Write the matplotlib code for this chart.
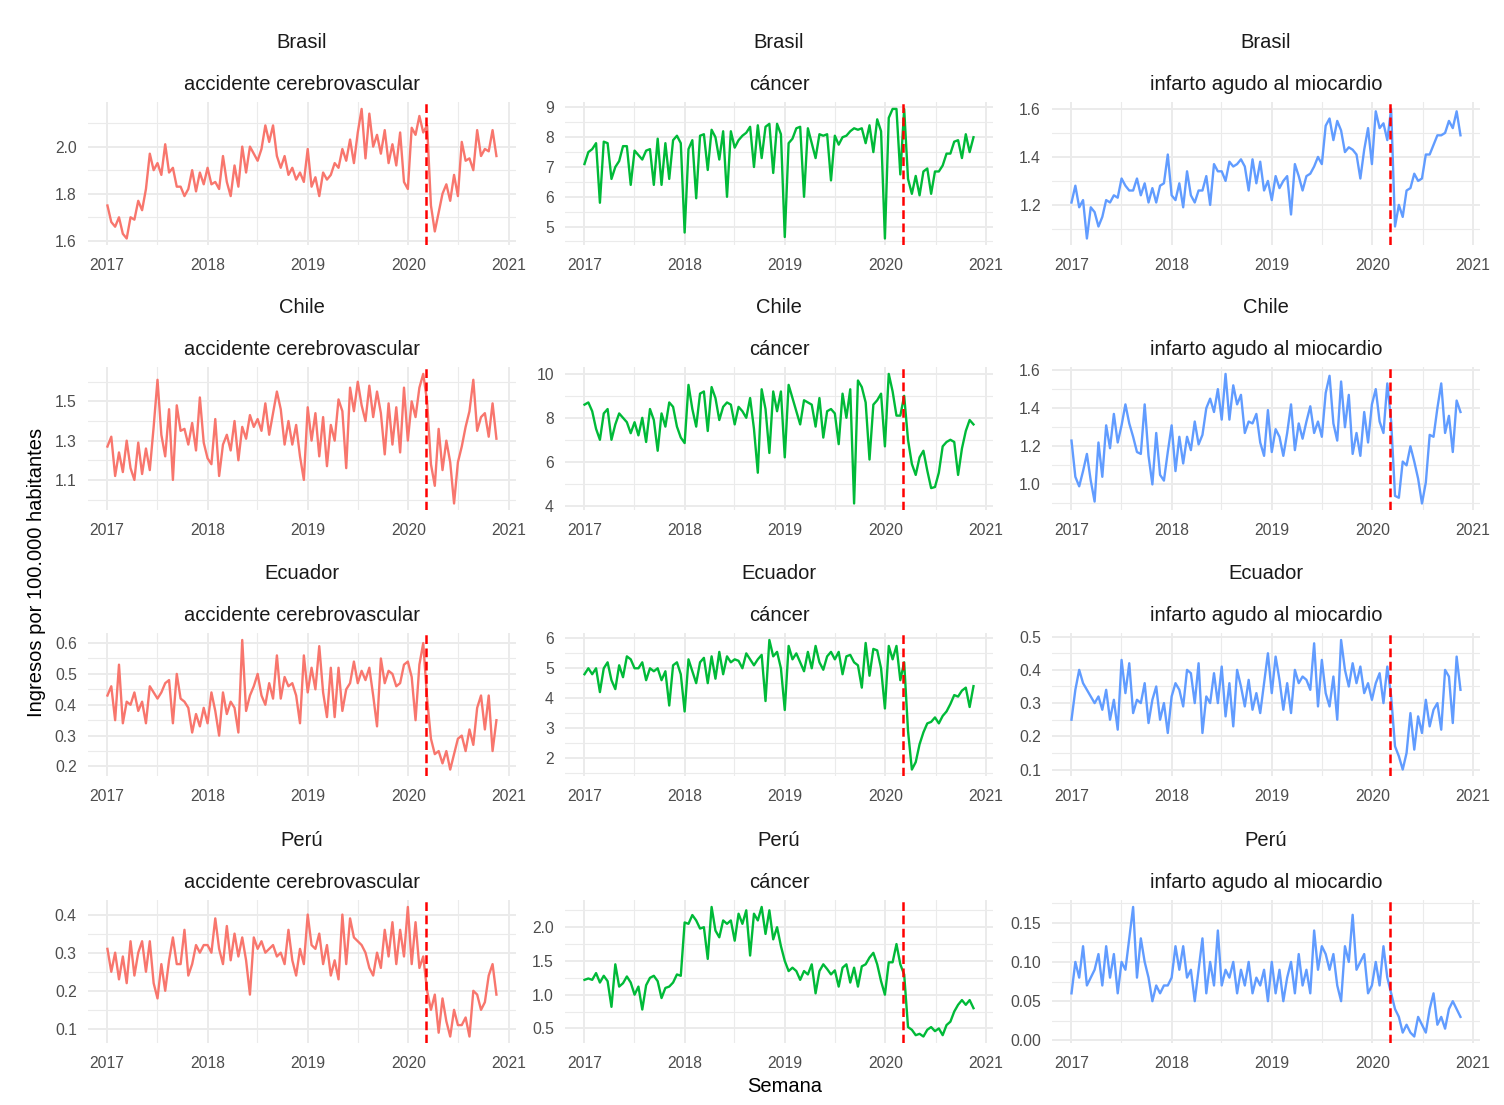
import matplotlib.pyplot as plt
import matplotlib.dates as mdates
import pandas as pd

# semanas (muestreo cada 14 dias)
weeks = pd.date_range('2017-01-02', periods=102, freq='14D')
cutoff = pd.Timestamp('2020-03-04')

countries = ['Brasil', 'Chile', 'Ecuador', 'Perú']
causes = ['accidente cerebrovascular', 'cáncer', 'infarto agudo al miocardio']
colors = ['#F8766D', '#00BA38', '#619CFF']

brasil_acv = [1.75, 1.68, 1.66, 1.70, 1.63, 1.61, 1.70, 1.69, 1.77, 1.73, 1.82, 1.97, 1.90, 1.93, 1.88, 2.01, 1.89, 1.91, 1.83, 1.83, 1.79, 1.82, 1.90, 1.81, 1.89, 1.84,
              1.91, 1.84, 1.85, 1.82, 1.96, 1.85, 1.79, 1.92, 1.83, 2.00, 1.89, 2.00, 1.97, 1.94, 1.99, 2.09, 2.02, 2.09, 1.96, 1.91, 1.96, 1.88, 1.91, 1.86, 1.89, 1.85,
              1.99, 1.83, 1.87, 1.79, 1.89, 1.86, 1.88, 1.93, 1.91, 1.99, 1.94, 2.03, 1.93, 2.06, 2.16, 1.95, 2.14, 2.00, 2.05, 1.97, 2.07, 1.93, 2.01, 1.92, 2.06, 1.85,
              1.82, 2.08, 2.05, 2.13, 2.06, 2.09, 1.75, 1.64, 1.72, 1.80, 1.84, 1.77, 1.88, 1.79, 2.02, 1.94, 1.95, 1.90, 2.07, 1.96, 1.99, 1.98, 2.07, 1.96]
brasil_cancer = [7.1, 7.5, 7.6, 7.8, 5.8, 7.85, 7.8, 6.6, 7.0, 7.2, 7.7, 7.7, 6.4, 7.55, 7.4, 7.25, 7.55, 7.6, 6.4, 7.95, 6.4, 7.8, 6.6, 7.9, 8.05, 7.8,
                 4.8, 7.6, 7.9, 5.95, 8.05, 8.1, 6.9, 8.25, 8.0, 7.25, 8.2, 6.0, 8.2, 7.65, 7.9, 8.05, 8.15, 8.35, 7.0, 8.4, 7.3, 8.35, 8.45, 6.8, 8.45, 8.1,
                 4.65, 7.8, 7.95, 8.3, 8.35, 6.0, 8.3, 7.8, 7.3, 8.1, 8.05, 8.1, 6.55, 8.05, 7.75, 8.0, 8.05, 8.2, 8.3, 8.25, 8.3, 7.8, 8.4, 7.5, 8.6, 8.2,
                 4.6, 8.65, 8.95, 8.95, 6.75, 8.95, 6.6, 6.1, 6.7, 6.05, 6.85, 6.95, 6.1, 6.85, 6.85, 7.05, 7.45, 7.45, 7.85, 7.9, 7.3, 8.1, 7.5, 8.0]
brasil_iam = [1.21, 1.28, 1.19, 1.22, 1.06, 1.19, 1.17, 1.11, 1.15, 1.22, 1.21, 1.24, 1.23, 1.31, 1.28, 1.26, 1.26, 1.31, 1.24, 1.29, 1.21, 1.27, 1.21, 1.28, 1.29, 1.41,
              1.24, 1.22, 1.29, 1.19, 1.34, 1.24, 1.21, 1.26, 1.26, 1.32, 1.20, 1.37, 1.34, 1.34, 1.30, 1.38, 1.36, 1.37, 1.39, 1.36, 1.26, 1.39, 1.29, 1.38, 1.26, 1.30,
              1.22, 1.32, 1.27, 1.30, 1.32, 1.16, 1.37, 1.32, 1.26, 1.32, 1.33, 1.36, 1.40, 1.37, 1.53, 1.56, 1.47, 1.55, 1.51, 1.42, 1.44, 1.43, 1.41, 1.31, 1.43, 1.52,
              1.37, 1.59, 1.52, 1.54, 1.47, 1.60, 1.11, 1.20, 1.15, 1.26, 1.27, 1.33, 1.30, 1.31, 1.41, 1.41, 1.45, 1.49, 1.49, 1.50, 1.55, 1.52, 1.59, 1.49]

chile_acv = [1.27, 1.32, 1.12, 1.24, 1.14, 1.30, 1.16, 1.10, 1.29, 1.13, 1.26, 1.15, 1.37, 1.61, 1.33, 1.22, 1.46, 1.10, 1.48, 1.35, 1.36, 1.28, 1.39, 1.25, 1.52, 1.29,
             1.21, 1.18, 1.41, 1.12, 1.28, 1.33, 1.25, 1.40, 1.20, 1.37, 1.31, 1.43, 1.37, 1.41, 1.35, 1.49, 1.33, 1.44, 1.55, 1.46, 1.28, 1.40, 1.28, 1.38, 1.22, 1.10,
             1.47, 1.30, 1.44, 1.22, 1.42, 1.17, 1.38, 1.30, 1.51, 1.45, 1.16, 1.57, 1.45, 1.60, 1.48, 1.40, 1.58, 1.42, 1.55, 1.44, 1.23, 1.49, 1.28, 1.47, 1.24, 1.57,
             1.30, 1.50, 1.42, 1.57, 1.64, 1.50, 1.18, 1.07, 1.36, 1.15, 1.30, 1.19, 0.98, 1.19, 1.27, 1.37, 1.45, 1.61, 1.35, 1.42, 1.44, 1.32, 1.49, 1.31]
chile_cancer = [8.6, 8.7, 8.3, 7.5, 7.0, 8.2, 8.4, 7.0, 7.7, 8.2, 8.0, 7.8, 7.3, 7.8, 7.2, 8.0, 6.9, 8.4, 7.9, 6.5, 8.2, 7.6, 8.7, 8.5, 7.6, 7.1,
                6.85, 9.5, 8.4, 7.6, 9.1, 9.2, 7.4, 9.4, 8.9, 7.9, 8.5, 8.7, 8.6, 7.7, 8.5, 8.3, 8.0, 8.9, 7.5, 5.5, 9.3, 8.4, 6.4, 9.2, 8.3, 9.2,
                6.2, 9.5, 8.9, 8.3, 7.7, 8.8, 8.7, 8.6, 7.6, 8.9, 7.1, 8.3, 8.4, 8.2, 6.8, 9.1, 8.0, 9.3, 4.1, 9.7, 9.4, 8.7, 6.1, 8.6, 8.8, 9.1,
                6.7, 10.0, 9.2, 8.1, 8.1, 9.0, 7.0, 5.9, 5.4, 6.2, 6.5, 5.6, 4.8, 4.85, 5.5, 6.7, 6.9, 7.0, 6.9, 5.4, 6.6, 7.4, 7.9, 7.7]
chile_iam = [1.23, 1.04, 0.99, 1.07, 1.16, 1.02, 0.91, 1.22, 1.04, 1.31, 1.19, 1.37, 1.22, 1.31, 1.42, 1.32, 1.25, 1.17, 1.16, 1.42, 1.15, 1.00, 1.27, 1.05, 1.02, 1.17,
             1.31, 1.07, 1.25, 1.11, 1.25, 1.18, 1.33, 1.21, 1.26, 1.40, 1.45, 1.38, 1.50, 1.34, 1.58, 1.34, 1.52, 1.42, 1.47, 1.27, 1.33, 1.32, 1.37, 1.22, 1.15, 1.39,
             1.17, 1.29, 1.25, 1.15, 1.27, 1.42, 1.18, 1.32, 1.24, 1.33, 1.41, 1.27, 1.33, 1.25, 1.48, 1.57, 1.32, 1.23, 1.54, 1.30, 1.47, 1.16, 1.27, 1.15, 1.38, 1.22,
             1.42, 1.50, 1.33, 1.27, 1.53, 1.33, 0.94, 0.93, 1.12, 1.10, 1.20, 1.12, 1.03, 0.90, 1.01, 1.26, 1.25, 1.40, 1.53, 1.27, 1.36, 1.17, 1.44, 1.38]

ecuador_acv = [0.43, 0.46, 0.35, 0.53, 0.34, 0.41, 0.40, 0.44, 0.38, 0.41, 0.34, 0.46, 0.44, 0.42, 0.44, 0.47, 0.48, 0.34, 0.50, 0.42, 0.41, 0.39, 0.31, 0.37, 0.33, 0.39,
               0.34, 0.44, 0.38, 0.30, 0.44, 0.37, 0.41, 0.39, 0.31, 0.61, 0.38, 0.43, 0.46, 0.50, 0.43, 0.40, 0.47, 0.42, 0.56, 0.42, 0.49, 0.46, 0.47, 0.43, 0.34, 0.56,
               0.44, 0.52, 0.45, 0.59, 0.44, 0.36, 0.52, 0.36, 0.52, 0.38, 0.45, 0.47, 0.54, 0.47, 0.51, 0.48, 0.52, 0.43, 0.33, 0.55, 0.47, 0.51, 0.50, 0.46, 0.47, 0.53,
               0.54, 0.49, 0.35, 0.53, 0.60, 0.42, 0.29, 0.24, 0.25, 0.21, 0.25, 0.19, 0.24, 0.29, 0.30, 0.25, 0.32, 0.27, 0.39, 0.43, 0.32, 0.43, 0.25, 0.35]
ecuador_cancer = [4.8, 5.0, 4.8, 5.0, 4.2, 5.0, 5.2, 4.6, 4.3, 5.1, 4.7, 5.4, 5.3, 5.0, 5.0, 5.2, 4.6, 5.0, 4.9, 5.0, 4.6, 4.9, 3.75, 5.1, 5.2, 4.8,
                  3.55, 5.3, 4.9, 4.5, 5.2, 5.35, 4.5, 5.4, 4.65, 5.55, 4.8, 5.4, 5.2, 5.3, 5.25, 5.0, 5.5, 5.3, 5.1, 5.3, 5.45, 3.9, 5.95, 5.4, 5.55, 5.0,
                  3.6, 5.75, 5.3, 5.5, 5.2, 4.9, 5.55, 5.0, 5.75, 5.2, 4.95, 5.4, 5.55, 5.3, 5.55, 4.8, 5.4, 5.45, 5.2, 5.1, 4.35, 5.85, 4.75, 5.65, 5.6, 5.0,
                  3.65, 5.75, 5.3, 5.75, 4.6, 5.2, 2.9, 1.6, 1.85, 2.45, 2.85, 3.15, 3.2, 3.35, 3.15, 3.4, 3.55, 3.8, 4.1, 4.05, 4.25, 4.35, 3.7, 4.4]
ecuador_iam = [0.25, 0.34, 0.40, 0.36, 0.34, 0.32, 0.30, 0.32, 0.28, 0.34, 0.25, 0.31, 0.22, 0.43, 0.33, 0.42, 0.27, 0.31, 0.30, 0.36, 0.24, 0.31, 0.35, 0.25, 0.30, 0.21,
               0.32, 0.36, 0.34, 0.29, 0.40, 0.39, 0.30, 0.42, 0.21, 0.32, 0.30, 0.39, 0.30, 0.41, 0.26, 0.36, 0.23, 0.40, 0.35, 0.29, 0.37, 0.28, 0.33, 0.27, 0.36, 0.45,
               0.33, 0.44, 0.37, 0.28, 0.36, 0.27, 0.40, 0.36, 0.38, 0.37, 0.34, 0.48, 0.29, 0.43, 0.33, 0.29, 0.38, 0.25, 0.49, 0.40, 0.35, 0.42, 0.36, 0.41, 0.33, 0.36,
               0.31, 0.36, 0.39, 0.30, 0.41, 0.32, 0.17, 0.14, 0.10, 0.15, 0.27, 0.16, 0.26, 0.21, 0.31, 0.23, 0.28, 0.30, 0.22, 0.40, 0.38, 0.24, 0.44, 0.34]

peru_acv = [0.31, 0.25, 0.30, 0.23, 0.29, 0.22, 0.33, 0.24, 0.30, 0.33, 0.25, 0.33, 0.22, 0.18, 0.27, 0.20, 0.28, 0.34, 0.27, 0.27, 0.36, 0.24, 0.27, 0.32, 0.30, 0.32,
            0.32, 0.30, 0.39, 0.31, 0.27, 0.37, 0.28, 0.35, 0.29, 0.34, 0.28, 0.19, 0.34, 0.31, 0.33, 0.30, 0.31, 0.32, 0.29, 0.30, 0.27, 0.36, 0.28, 0.24, 0.31, 0.27,
            0.40, 0.32, 0.31, 0.35, 0.27, 0.32, 0.24, 0.28, 0.23, 0.40, 0.27, 0.39, 0.34, 0.33, 0.32, 0.30, 0.26, 0.24, 0.30, 0.26, 0.36, 0.29, 0.38, 0.27, 0.36, 0.29,
            0.42, 0.27, 0.38, 0.26, 0.29, 0.20, 0.15, 0.19, 0.09, 0.18, 0.12, 0.08, 0.15, 0.11, 0.11, 0.13, 0.08, 0.20, 0.19, 0.15, 0.17, 0.24, 0.27, 0.19]
peru_cancer = [1.22, 1.24, 1.22, 1.32, 1.18, 1.28, 1.20, 0.82, 1.45, 1.12, 1.17, 1.27, 1.18, 1.00, 1.12, 0.78, 1.14, 1.25, 1.28, 1.20, 0.95, 1.10, 1.12, 1.18, 1.30, 1.28,
               2.07, 2.05, 2.18, 2.10, 1.98, 2.00, 1.53, 2.30, 1.95, 1.85, 2.10, 2.05, 2.10, 1.80, 2.20, 2.05, 2.25, 1.58, 2.20, 2.10, 2.30, 1.90, 2.25, 1.82, 2.00, 1.72,
               1.50, 1.35, 1.40, 1.35, 1.22, 1.35, 1.30, 1.45, 1.02, 1.35, 1.45, 1.38, 1.30, 1.36, 1.12, 1.40, 1.45, 1.18, 1.40, 1.12, 1.42, 1.45, 1.55, 1.62, 1.45, 1.20,
               1.00, 1.48, 1.48, 1.75, 1.45, 1.30, 0.52, 0.48, 0.40, 0.42, 0.38, 0.48, 0.52, 0.46, 0.50, 0.40, 0.55, 0.60, 0.75, 0.85, 0.92, 0.85, 0.92, 0.80]
peru_iam = [0.06, 0.10, 0.08, 0.12, 0.07, 0.08, 0.09, 0.11, 0.07, 0.12, 0.08, 0.11, 0.06, 0.10, 0.09, 0.13, 0.17, 0.08, 0.13, 0.10, 0.08, 0.05, 0.07, 0.06, 0.07, 0.07,
            0.08, 0.12, 0.09, 0.12, 0.08, 0.09, 0.05, 0.09, 0.13, 0.06, 0.10, 0.07, 0.14, 0.07, 0.09, 0.08, 0.10, 0.06, 0.09, 0.07, 0.10, 0.06, 0.08, 0.07, 0.09, 0.05,
            0.10, 0.06, 0.09, 0.05, 0.08, 0.10, 0.06, 0.11, 0.07, 0.09, 0.06, 0.14, 0.09, 0.12, 0.11, 0.09, 0.11, 0.07, 0.05, 0.12, 0.10, 0.16, 0.09, 0.10, 0.11, 0.06,
            0.07, 0.10, 0.07, 0.12, 0.08, 0.06, 0.04, 0.03, 0.01, 0.02, 0.01, 0.005, 0.03, 0.02, 0.01, 0.04, 0.06, 0.02, 0.03, 0.015, 0.04, 0.05, 0.04, 0.03]

series = [[brasil_acv, brasil_cancer, brasil_iam],
          [chile_acv, chile_cancer, chile_iam],
          [ecuador_acv, ecuador_cancer, ecuador_iam],
          [peru_acv, peru_cancer, peru_iam]]

yticks = [[[1.6, 1.8, 2.0], [5, 6, 7, 8, 9], [1.2, 1.4, 1.6]],
          [[1.1, 1.3, 1.5], [4, 6, 8, 10], [1.0, 1.2, 1.4, 1.6]],
          [[0.2, 0.3, 0.4, 0.5, 0.6], [2, 3, 4, 5, 6], [0.1, 0.2, 0.3, 0.4, 0.5]],
          [[0.1, 0.2, 0.3, 0.4], [0.5, 1.0, 1.5, 2.0], [0.00, 0.05, 0.10, 0.15]]]
ydec = [[1, 0, 1], [1, 0, 1], [1, 0, 1], [1, 1, 2]]

plt.rcParams['font.family'] = ['Liberation Sans', 'DejaVu Sans']

fig = plt.figure(figsize=(15.04, 11.05), dpi=100)
lefts = [0.0585, 0.3757, 0.6995]
bottoms = [0.7783, 0.5385, 0.2977, 0.0561]
w, h = 0.2845, 0.129

for r in range(4):
    for c in range(3):
        ax = fig.add_axes([lefts[c], bottoms[r], w, h])
        ax.plot(weeks, series[r][c], color=colors[c], lw=1.7)
        ax.axvline(cutoff, color='red', ls=(0, (3.5, 1.8)), lw=1.8)
        ylo, yhi = ax.get_ylim()
        t = yticks[r][c]
        step = t[1] - t[0]
        ax.set_yticks(t)
        ax.set_yticklabels([f'{v:.{ydec[r][c]}f}' for v in t])
        ax.set_yticks([t[0] - step / 2] + [v + step / 2 for v in t], minor=True)
        ax.set_ylim(ylo, yhi)
        ax.xaxis.set_major_locator(mdates.YearLocator())
        ax.xaxis.set_major_formatter(mdates.DateFormatter('%Y'))
        ax.xaxis.set_minor_locator(mdates.MonthLocator(bymonth=7))
        ax.grid(which='major', color='#ebebeb', lw=1.4)
        ax.grid(which='minor', color='#ebebeb', lw=0.8)
        ax.set_axisbelow(True)
        for s in ax.spines.values():
            s.set_visible(False)
        ax.tick_params(which='both', length=0, labelsize=11.3, labelcolor='#4d4d4d')
        ax.tick_params(axis='x', pad=9.5)
        ax.tick_params(axis='y', pad=8)
        ax.annotate(countries[r], xy=(0.5, 1), xycoords='axes fraction', xytext=(0, 43),
                    textcoords='offset points', ha='center', va='center', fontsize=14.5, color='#1a1a1a')
        ax.annotate(causes[c], xy=(0.5, 1), xycoords='axes fraction', xytext=(0, 13),
                    textcoords='offset points', ha='center', va='center', fontsize=14.5, color='#1a1a1a')

fig.text(0.024, 0.4824, 'Ingresos por 100.000 habitantes', rotation=90, ha='center', va='center', fontsize=14.5)
fig.text(0.522, 0.017, 'Semana', ha='center', va='center', fontsize=14.5)

fig.savefig('out.png', dpi=100)
